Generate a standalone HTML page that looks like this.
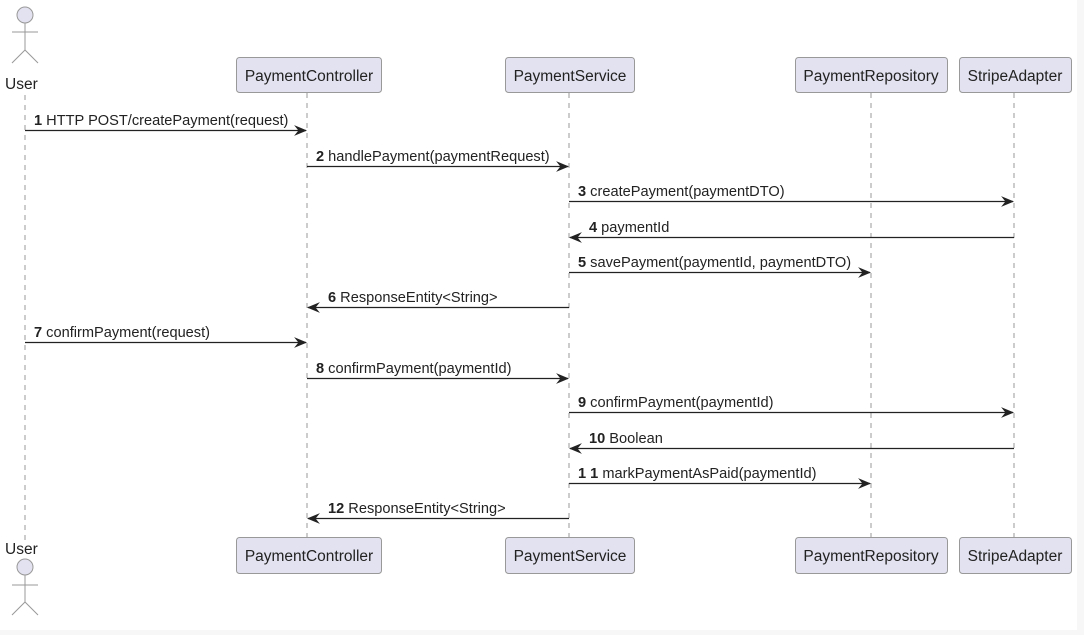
<!DOCTYPE html>
<html><head><meta charset="utf-8"><style>
html,body{margin:0;padding:0;background:#f7f7f7;}
svg{display:block;font-family:"Liberation Sans",Arial,sans-serif;}
</style></head><body>
<svg width="1084" height="635" viewBox="0 0 1084 635" xmlns="http://www.w3.org/2000/svg">
<rect x="0" y="0" width="1077" height="630" fill="#ffffff"/>
<defs>
<marker id="a" viewBox="0 0 12 10" refX="11" refY="5" markerWidth="13" markerHeight="11" markerUnits="userSpaceOnUse" orient="auto">
<path d="M0,0 L12,5 L0,10 L4,5 Z" fill="#222"/>
</marker>
</defs>
<g stroke="#999" stroke-width="1" stroke-dasharray="5,5">
<line x1="25" y1="95" x2="25" y2="540"/>
<line x1="307" y1="93" x2="307" y2="537"/>
<line x1="569" y1="93" x2="569" y2="537"/>
<line x1="871" y1="93" x2="871" y2="537"/>
<line x1="1014" y1="93" x2="1014" y2="537"/>
</g>
<g fill="#e2e2f0" stroke="#999" stroke-width="1">
<circle cx="25" cy="15" r="8"/>
<circle cx="25" cy="567" r="8"/>
</g>
<g stroke="#999" stroke-width="1" fill="none">
<line x1="25" y1="23" x2="25" y2="50"/><line x1="12" y1="32" x2="38" y2="32"/>
<path d="M12,63 L25,50 L38,63"/>
<line x1="25" y1="575" x2="25" y2="602"/><line x1="12" y1="585" x2="38" y2="585"/>
<path d="M12,615 L25,602 L38,615"/>
</g>
<g font-size="15.5" fill="#222">
<text x="5" y="89">User</text>
<text x="5" y="554">User</text>
</g>
<g fill="#e2e2f0" stroke="#999" stroke-width="1">
<rect x="236.5" y="57.5" width="145" height="35" rx="3"/>
<rect x="505.5" y="57.5" width="129" height="35" rx="3"/>
<rect x="795.5" y="57.5" width="152" height="35" rx="3"/>
<rect x="959.5" y="57.5" width="112" height="35" rx="3"/>
<rect x="236.5" y="537.5" width="145" height="36" rx="3"/>
<rect x="505.5" y="537.5" width="129" height="36" rx="3"/>
<rect x="795.5" y="537.5" width="152" height="36" rx="3"/>
<rect x="959.5" y="537.5" width="112" height="36" rx="3"/>
</g>
<g font-size="15.5" fill="#222" text-anchor="middle">
<text x="309" y="81">PaymentController</text>
<text x="570" y="81">PaymentService</text>
<text x="871" y="81">PaymentRepository</text>
<text x="1015" y="81">StripeAdapter</text>
<text x="309" y="561">PaymentController</text>
<text x="570" y="561">PaymentService</text>
<text x="871" y="561">PaymentRepository</text>
<text x="1015" y="561">StripeAdapter</text>
</g>
<g stroke="#222" stroke-width="1.2" marker-end="url(#a)">
<line x1="25" y1="130.5" x2="306" y2="130.5"/>
<line x1="307" y1="166.5" x2="568" y2="166.5"/>
<line x1="569" y1="201.5" x2="1013" y2="201.5"/>
<line x1="1014" y1="237.5" x2="570" y2="237.5"/>
<line x1="569" y1="272.5" x2="870" y2="272.5"/>
<line x1="569" y1="307.5" x2="308" y2="307.5"/>
<line x1="25" y1="342.5" x2="306" y2="342.5"/>
<line x1="307" y1="378.5" x2="568" y2="378.5"/>
<line x1="569" y1="412.5" x2="1013" y2="412.5"/>
<line x1="1014" y1="448.5" x2="570" y2="448.5"/>
<line x1="569" y1="483.5" x2="870" y2="483.5"/>
<line x1="569" y1="518.5" x2="308" y2="518.5"/>
</g>
<g font-size="14.6" fill="#222">
<text x="34" y="125"><tspan font-weight="bold">1</tspan> HTTP POST/createPayment(request)</text>
<text x="316" y="161"><tspan font-weight="bold">2</tspan> handlePayment(paymentRequest)</text>
<text x="578" y="196"><tspan font-weight="bold">3</tspan> createPayment(paymentDTO)</text>
<text x="589" y="232"><tspan font-weight="bold">4</tspan> paymentId</text>
<text x="578" y="267"><tspan font-weight="bold">5</tspan> savePayment(paymentId, paymentDTO)</text>
<text x="328" y="302"><tspan font-weight="bold">6</tspan> ResponseEntity&lt;String&gt;</text>
<text x="34" y="337"><tspan font-weight="bold">7</tspan> confirmPayment(request)</text>
<text x="316" y="373"><tspan font-weight="bold">8</tspan> confirmPayment(paymentId)</text>
<text x="578" y="407"><tspan font-weight="bold">9</tspan> confirmPayment(paymentId)</text>
<text x="589" y="443"><tspan font-weight="bold">10</tspan> Boolean</text>
<text x="578" y="478"><tspan font-weight="bold">1 1</tspan> markPaymentAsPaid(paymentId)</text>
<text x="328" y="513"><tspan font-weight="bold">12</tspan> ResponseEntity&lt;String&gt;</text>
</g>
</svg>
</body></html>
